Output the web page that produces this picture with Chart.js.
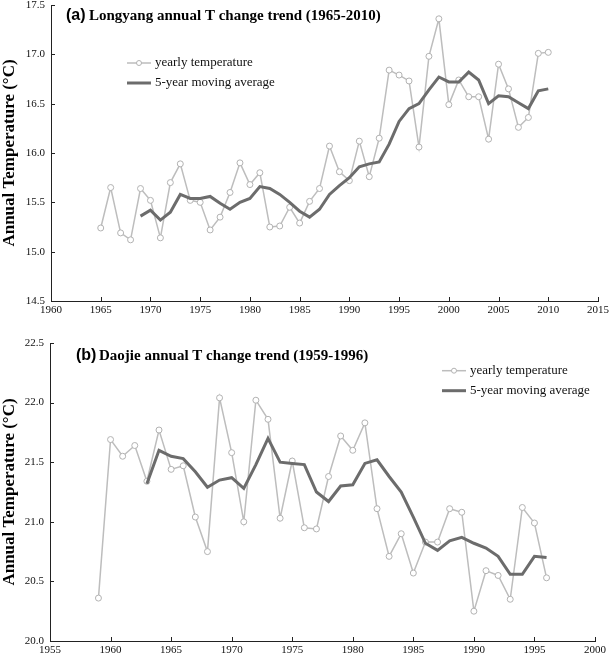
<!DOCTYPE html>
<html>
<head>
<meta charset="utf-8">
<script src="https://cdn.jsdelivr.net/npm/chart.js@4/dist/chart.umd.min.js"></script>
<style>
    html, body { margin: 0; padding: 0; background: #fff; }
    #wrap { position: relative; width: 609px; height: 655px; overflow: hidden; }
    .panel { position: absolute; left: 0; width: 609px; }
</style>
</head>
<body>
<div id="wrap">
    <div class="panel" style="top:0;height:320px"><canvas id="chartA" width="609" height="320"></canvas></div>
    <div class="panel" style="top:320px;height:335px"><canvas id="chartB" width="609" height="335"></canvas></div>
</div>
<script>
"use strict";

// (a) Longyang, 1965-2010
const yearsA = [1965, 1966, 1967, 1968, 1969, 1970, 1971, 1972, 1973, 1974,
    1975, 1976, 1977, 1978, 1979, 1980, 1981, 1982, 1983, 1984,
    1985, 1986, 1987, 1988, 1989, 1990, 1991, 1992, 1993, 1994,
    1995, 1996, 1997, 1998, 1999, 2000, 2001, 2002, 2003, 2004,
    2005, 2006, 2007, 2008, 2009, 2010];
const yearlyA = [15.24, 15.65, 15.19, 15.12, 15.64, 15.52, 15.14, 15.70, 15.89, 15.52,
    15.50, 15.22, 15.35, 15.60, 15.90, 15.68, 15.80, 15.25, 15.26, 15.45,
    15.29, 15.51, 15.64, 16.07, 15.81, 15.72, 16.12, 15.76, 16.15, 16.84,
    16.79, 16.73, 16.06, 16.98, 17.36, 16.49, 16.74, 16.57, 16.57, 16.14,
    16.90, 16.65, 16.26, 16.36, 17.01, 17.02];
// 5-year moving average starts at 1969
const movingA = [15.36, 15.42, 15.32, 15.40, 15.58, 15.54,
    15.54, 15.56, 15.49, 15.43, 15.50, 15.54, 15.66, 15.64, 15.58, 15.50,
    15.41, 15.35, 15.43, 15.58, 15.67, 15.75, 15.86, 15.89, 15.91, 16.09,
    16.32, 16.45, 16.50, 16.64, 16.77, 16.72, 16.72, 16.82, 16.74, 16.50,
    16.58, 16.57, 16.51, 16.45, 16.63, 16.65];
const xTicksA = [1960, 1965, 1970, 1975, 1980, 1985, 1990, 1995, 2000, 2005, 2010, 2015];
const yTicksA = [14.5, 15.0, 15.5, 16.0, 16.5, 17.0, 17.5];

// (b) Daojie, 1959-1996
const yearsB = [1959, 1960, 1961, 1962, 1963, 1964, 1965, 1966, 1967, 1968,
    1969, 1970, 1971, 1972, 1973, 1974, 1975, 1976, 1977, 1978,
    1979, 1980, 1981, 1982, 1983, 1984, 1985, 1986, 1987, 1988,
    1989, 1990, 1991, 1992, 1993, 1994, 1995, 1996];
const yearlyB = [20.36, 21.69, 21.55, 21.64, 21.34, 21.77, 21.44, 21.47, 21.04, 20.75,
    22.04, 21.58, 21.00, 22.02, 21.86, 21.03, 21.51, 20.95, 20.94, 21.38,
    21.72, 21.60, 21.83, 21.11, 20.71, 20.90, 20.57, 20.83, 20.83, 21.11,
    21.08, 20.25, 20.59, 20.55, 20.35, 21.12, 20.99, 20.53];
// 5-year moving average starts at 1963
const movingB = [21.32, 21.60, 21.55, 21.53, 21.42, 21.29,
    21.35, 21.37, 21.28, 21.48, 21.70, 21.50, 21.49, 21.48, 21.25, 21.17,
    21.30, 21.31, 21.49, 21.52, 21.38, 21.25, 21.04, 20.82, 20.76, 20.84,
    20.87, 20.82, 20.78, 20.71, 20.56, 20.56, 20.71, 20.70];
const xTicksB = [1955, 1960, 1965, 1970, 1975, 1980, 1985, 1990, 1995, 2000];
const yTicksB = [20.0, 20.5, 21.0, 21.5, 22.0, 22.5];

const SERIF = "'Liberation Serif', 'Times New Roman', serif";
const SANS = "'Liberation Sans', Arial, sans-serif";
const AXIS_COLOR = "#222";

// inward tick marks + panel title + legend
const panelDecor = {
    id: "panelDecor",
    afterDraw(chart, args, opts) {
        const ctx = chart.ctx;
        const xs = chart.scales.x;
        const ys = chart.scales.y;
        const area = chart.chartArea;

        ctx.save();
        ctx.strokeStyle = AXIS_COLOR;
        ctx.lineWidth = 1;
        ctx.beginPath();
        xs.ticks.forEach(t => {
            const px = Math.round(xs.getPixelForValue(t.value)) + 0.5;
            ctx.moveTo(px, area.bottom);
            ctx.lineTo(px, area.bottom - 4);
        });
        ys.ticks.forEach(t => {
            const py = Math.round(ys.getPixelForValue(t.value)) + 0.5;
            ctx.moveTo(area.left, py);
            ctx.lineTo(area.left + 4, py);
        });
        ctx.stroke();

        // title
        ctx.fillStyle = "#000";
        ctx.textBaseline = "alphabetic";
        ctx.textAlign = "left";
        ctx.font = "bold 16px " + SANS;
        ctx.fillText(opts.tag, opts.tagX, opts.titleY);
        ctx.font = "bold 15px " + SERIF;
        ctx.fillText(opts.title, opts.titleX, opts.titleY);

        // legend
        const ds = chart.data.datasets;
        ctx.font = "13px " + SERIF;
        ctx.textBaseline = "middle";
        [0, 1].forEach(i => {
            const d = ds[i];
            const y = opts.legendY + i * 20;
            const x0 = opts.legendX;
            const x1 = x0 + 24;
            ctx.strokeStyle = d.borderColor;
            ctx.lineWidth = d.borderWidth;
            ctx.beginPath();
            ctx.moveTo(x0, y);
            ctx.lineTo(x1, y);
            ctx.stroke();
            if (d.pointRadius > 0) {
                ctx.fillStyle = "#fff";
                ctx.strokeStyle = d.pointBorderColor;
                ctx.lineWidth = 1;
                ctx.beginPath();
                ctx.arc((x0 + x1) / 2, y, 2.5, 0, Math.PI * 2);
                ctx.fill();
                ctx.stroke();
            }
            ctx.fillStyle = "#111";
            ctx.fillText(d.label, x1 + 4, y);
        });
        ctx.restore();
    }
};

function points(years, values) {
    return values.map((v, i) => ({ x: years[i], y: v }));
}

function buildChart(id, cfg) {
    const ctx = document.getElementById(id).getContext("2d");
    return new Chart(ctx, {
        type: "line",
        data: {
            datasets: [{
                label: "yearly temperature",
                data: points(cfg.years, cfg.yearly),
                borderColor: "#bdbdbd",
                borderWidth: 1.5,
                pointRadius: 3,
                pointBackgroundColor: "#fff",
                pointBorderColor: "#b2b2b2",
                pointBorderWidth: 1,
                tension: 0,
                order: 1
            }, {
                label: "5-year moving average",
                data: points(cfg.years.slice(4), cfg.moving),
                borderColor: "#6c6c6c",
                borderWidth: 3,
                pointRadius: 0,
                tension: 0,
                order: 0
            }]
        },
        options: {
            responsive: false,
            animation: false,
            devicePixelRatio: 1,
            layout: { padding: cfg.padding },
            plugins: {
                legend: { display: false },
                tooltip: { enabled: false },
                panelDecor: cfg.decor
            },
            scales: {
                x: {
                    type: "linear",
                    min: cfg.xTicks[0],
                    max: cfg.xTicks[cfg.xTicks.length - 1],
                    afterBuildTicks: s => { s.ticks = cfg.xTicks.map(v => ({ value: v })); },
                    afterFit: s => { s.height = cfg.xHeight; s.paddingLeft = 0; s.paddingRight = 0; },
                    ticks: {
                        autoSkip: false,
                        maxRotation: 0,
                        padding: 3,
                        color: "#111",
                        font: { family: SERIF, size: 11 },
                        callback: v => String(v)
                    },
                    grid: { display: false, drawTicks: false },
                    border: { display: true, color: AXIS_COLOR, width: 1 }
                },
                y: {
                    type: "linear",
                    min: cfg.yTicks[0],
                    max: cfg.yTicks[cfg.yTicks.length - 1],
                    afterBuildTicks: s => { s.ticks = cfg.yTicks.map(v => ({ value: v })); },
                    afterFit: s => { s.width = cfg.yWidth; s.paddingTop = 0; s.paddingBottom = 0; },
                    ticks: {
                        autoSkip: false,
                        padding: 6,
                        color: "#111",
                        font: { family: SERIF, size: 11 },
                        callback: v => Number(v).toFixed(1)
                    },
                    title: {
                        display: true,
                        text: "Annual Temperature (°C)",
                        color: "#000",
                        font: { family: SERIF, size: 17, weight: "bold" },
                        padding: { top: -1, bottom: 0 }
                    },
                    grid: { display: false, drawTicks: false },
                    border: { display: true, color: AXIS_COLOR, width: 1 }
                }
            }
        },
        plugins: [panelDecor]
    });
}

buildChart("chartA", {
    years: yearsA, yearly: yearlyA, moving: movingA,
    xTicks: xTicksA, yTicks: yTicksA,
    padding: { top: 4, right: 11, left: 0, bottom: 0 },
    xHeight: 19, yWidth: 51,
    decor: {
        tag: "(a)", tagX: 66, title: "Longyang annual T change trend (1965-2010)",
        titleX: 89, titleY: 19.5, legendX: 127, legendY: 63
    }
});

buildChart("chartB", {
    years: yearsB, yearly: yearlyB, moving: movingB,
    xTicks: xTicksB, yTicks: yTicksB,
    padding: { top: 23, right: 14, left: 0, bottom: 0 },
    xHeight: 14, yWidth: 50,
    decor: {
        tag: "(b)", tagX: 76, title: "Daojie annual T change trend (1959-1996)",
        titleX: 99, titleY: 39.5, legendX: 442, legendY: 50.7
    }
});
</script>
</body>
</html>
